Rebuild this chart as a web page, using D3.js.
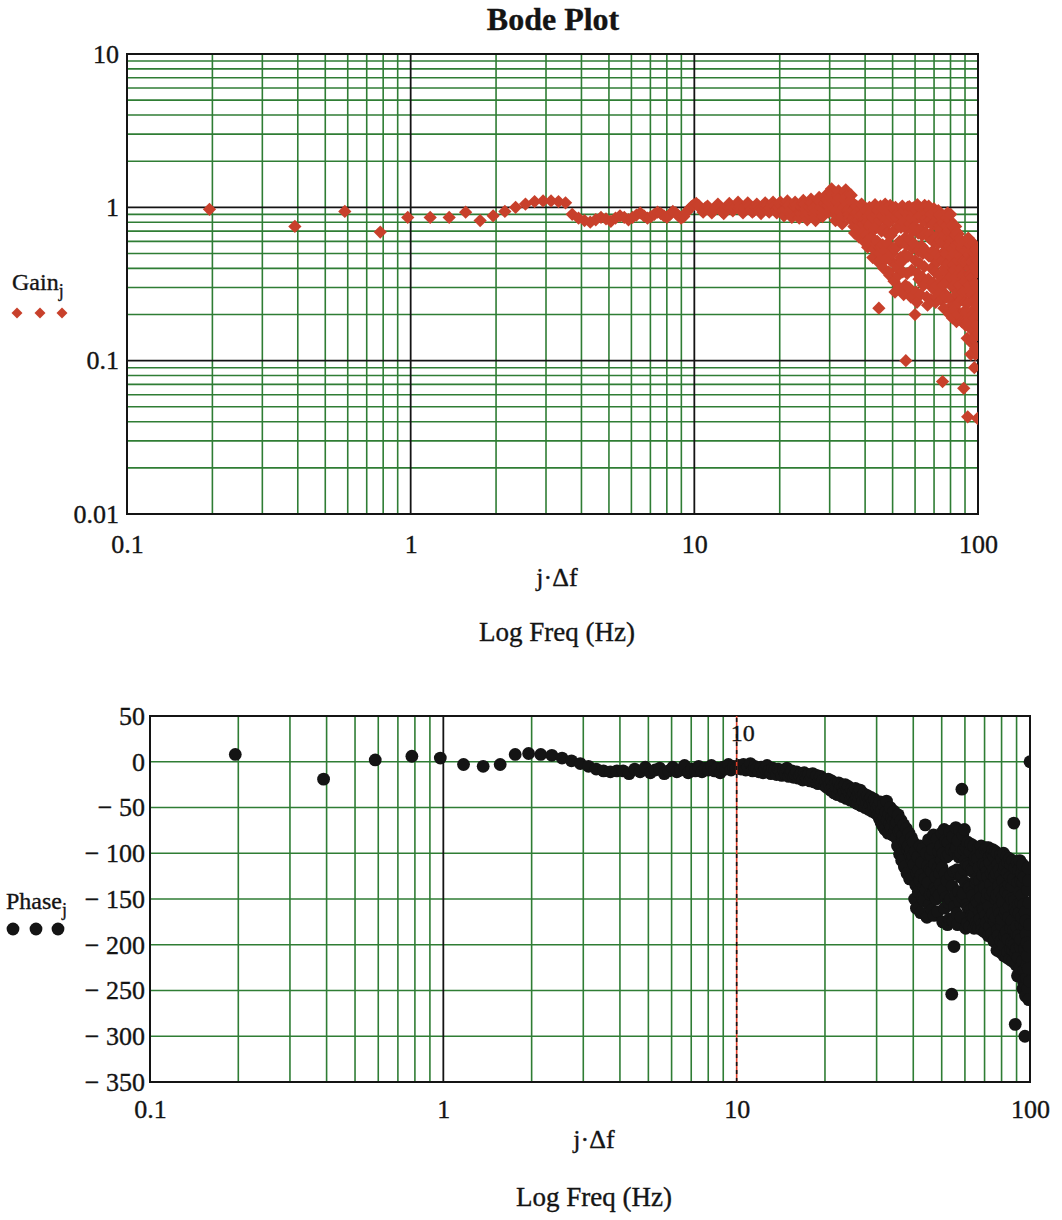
<!DOCTYPE html>
<html>
<head>
<meta charset="utf-8">
<script src="https://cdn.jsdelivr.net/npm/d3@7"></script>
<style>
  body { margin: 0; background: #fff; }
  text { font-family: "Liberation Serif", "Times New Roman", serif; fill: #141414; stroke: #141414; stroke-width: 0.35px; }
</style>
</head>
<body>
<svg id="chart" width="1062" height="1220"></svg>
<script>
// frequency step, x value of point j is j * df
const df = 100 / 512;

// Gain_j, j = 1..512
const gain = [
  .97,.75,.94,.69,.86,.86,.86,.93,.82,.88,
  .94,1.0,1.05,1.09,1.10,1.10,1.09,1.07,.90,.85,
  .82,.80,.83,.86,.84,.81,.85,.88,.86,.83,
  .86,.89,.92,.88,.85,.87,.90,.93,.91,.88,
  .86,.90,.94,.92,.88,.85,.87,.93,.97,1.01,1.04,
  1.06,1.03,.98,.93,.99,1.02,.97,.92,.96,1.00,
  1.05,.99,.94,.91,.97,1.01,1.06,1.00,.95,.98,
  1.02,1.08,1.01,.97,.92,.98,1.03,1.07,1.02,.96,
  .93,.95,1.00,1.05,1.01,.97,.91,.96,1.02,1.07,
  1.03,.96,.93,.99,1.04,1.08,1.02,.95,.92,1.00,1.06,
  1.08,1.02,.95,.88,.97,1.05,1.10,1.03,.94,.90,
  .86,.95,1.02,1.08,1.04,.98,.91,.85,.91,1.00,
  1.06,1.11,1.05,.97,.88,.83,.92,1.01,1.09,1.13,
  1.07,.99,.91,.86,.82,.95,1.04,1.12,1.16,1.08,
  1.00,.92,.87,.97,1.06,1.15,1.20,1.12,1.03,.93,1.08,1.18,
  1.25,1.32,1.22,1.10,.98,.90,.82,.95,1.08,1.20,1.28,1.15,1.02,.93,.86,.78,.88,1.00,1.12,1.24,1.30,1.18,1.05,.96,.90,
  .85,.97,1.10,1.20,1.08,.95,.84,.75,.68,.80,.92,1.02,.93,.82,.72,.64,.76,.88,.98,1.05,.90,.78,.67,.60,.70,.84,
  .95,.66,.80,.55,.88,.62,1.00,.75,.78,.92,
  .64,.86,.47,.98,.53,.72,1.04,.58,.74,.90,
  .60,.95,.44,.22,.82,.50,1.02,.56,.70,.88,
  .57,.97,.40,.73,.52,1.05,.46,.84,.68,.91,
  .58,.94,.38,.80,.36,1.03,.45,.66,.87,.50,.69,
  .54,.99,.33,.71,.28,1.00,.42,.86,.55,.40,
  .92,.36,.76,.30,.60,.90,.47,.74,.44,.59,
  1.02,.38,.80,.27,.95,.49,.63,.31,.10,.57,
  .72,.37,1.00,.48,.88,.30,1.01,.62,.94,.78,
  .26,.85,.39,.98,.54,.70,.99,.58,.91,.75,.20,
  .45,.97,.28,.84,.24,1.04,.37,.68,.52,.34,
  1.00,.43,.88,.27,.72,.33,.56,.66,.35,.50,
  .82,.31,.96,.41,1.03,.53,.99,.68,.92,.84,
  .26,.79,.23,.93,.34,1.02,.48,.63,.97,.83,
  .67,.25,.90,.40,.61,.30,.77,.52,.32,.46,
  .98,.29,.94,.38,.80,.24,.64,.26,.50,.31,
  .44,.86,.58,.95,.36,.73,.89,.47,.76,.61,
  .28,.72,.25,.59,.33,.45,.073,
  .88,.31,.79,.22,.66,.40,.52,.26,.38,.27,
  .50,.86,.26,.76,.33,.92,.43,.63,.70,.56,
  .22,.72,.20,.82,.35,.90,.25,.60,.47,.76,
  .63,.19,.54,.30,.42,.23,.50,.31,.39,.22,
  .66,.21,.75,.35,.57,.18,.69,.27,.45,.20,
  .28,.67,.24,.59,.31,.62,.37,.51,.48,.40,
  .19,.61,.25,.54,.18,.46,.34,.56,.44,.36,
  .28,.066,.45,.21,.33,.18,.24,
  .52,.17,.60,.28,.55,.21,.45,.14,.36,.043,
  .18,.63,.24,.55,.31,.49,.40,.57,.36,.45,
  .28,.11,.44,.16,.35,.13,.27,.21,.14,.20,
  .51,.14,.58,.19,.41,.09,.50,.25,.32,.11,
  .12,.53,.17,.46,.23,.38,.30,.45,.042,.26,.15
];

// Phase_j (degrees), j = 1..512
const phase = [
  8,-19,2,6,4,-3,-5,-3,8,9,
  8,7,4,1,-2,-5,-8,-10,-11,-10,
  -10,-13,-8,-11,-6,-12,-9,-7,-13,-10,
  -6,-11,-9,-4,-12,-8,-10,-5,-11,-7,
  -9,-4,-10,-7,-12,-6,-8,-3,-9,-5,-7,
  -4,-8,-3,-9,-6,-2,-10,-5,-7,-11,
  -6,-12,-8,-4,-10,-13,-7,-9,-14,-8,
  -11,-15,-9,-13,-7,-16,-12,-10,-17,-14,
  -11,-18,-15,-13,-20,-12,-16,-19,-14,-21,
  -17,-13,-22,-18,-15,-24,-19,-16,-23,-20,-26,
  -22,-28,-19,-25,-31,-21,-27,-34,-24,-29,
  -36,-23,-30,-26,-38,-28,-33,-25,-40,-31,
  -27,-35,-42,-30,-37,-33,-44,-29,-39,-46,
  -34,-41,-31,-48,-38,-43,-35,-50,-40,-45,
  -37,-52,-42,-47,-39,-54,-44,-49,-41,-56,-46,-51,
  -58,-48,-62,-44,-66,-53,-70,-47,-60,-74,-55,-43,-64,-78,-57,-68,-50,-72,-61,-80,-65,-54,-76,-69,-83,
  -66,-92,-58,-76,-101,-74,-64,-108,-84,-80,-69,-115,-90,-86,-73,-122,-96,-92,-78,-128,-102,-97,-83,-108,-103,-88,
  -112,-150,-98,-135,-160,-122,-104,-142,-118,-130,
  -92,-165,-124,-110,-148,-95,-136,-152,-128,-69,
  -140,-100,-170,-114,-132,-85,-156,-118,-145,-102,
  -120,-162,-96,-144,-80,-168,-112,-138,-126,-150,
  -142,-84,-164,-116,-98,-146,-122,-134,-92,-108,-78,
  -116,-175,-100,-140,-74,-160,-122,-86,-148,-104,
  -130,-178,-88,-154,-102,-172,-76,-150,-124,-96,
  -254,-136,-82,-174,-120,-202,-158,-98,-146,-72,
  -94,-166,-118,-178,-86,-142,-104,-152,-75,-126,
  -100,-170,-124,-30,-148,-80,-144,-96,-118,-74,-108,
  -132,-182,-94,-156,-112,-176,-88,-160,-136,-114,
  -138,-180,-98,-162,-90,-168,-118,-142,-120,-146,
  -170,-92,-182,-108,-158,-104,-132,-176,-128,-152,
  -180,-106,-154,-94,-182,-116,-164,-130,-172,-140,
  -148,-92,-178,-100,-184,-124,-160,-112,-162,-136,
  -138,-186,-96,-168,-114,-176,-94,-150,-120,-144,
  -126,-190,-94,-158,-104,-180,-110,-170,-134,-146,
  -122,-188,-100,-166,-96,-142,-118,
  -196,-104,-174,-126,-194,-98,-150,-170,-122,-146,
  -206,-100,-184,-112,-190,-136,-160,-118,-166,-142,
  -208,-102,-196,-124,-178,-106,-172,-148,-130,-154,
  -200,-100,-212,-118,-190,-114,-166,-138,-142,-162,
  -186,-104,-214,-122,-208,-110,-194,-146,-170,-134,
  -158,-106,-216,-126,-204,-112,-182,-150,-198,-174,
  -136,-218,-108,-206,-128,-184,-67,-200,-152,-160,
  -116,-287,-210,-164,-222,-188,-204,
  -180,-110,-234,-132,-214,-156,-190,-118,-166,-142,
  -226,-108,-202,-130,-194,-154,-178,-122,-170,-146,
  -218,-112,-248,-132,-240,-156,-228,-126,-204,-180,
  -300,-164,-256,-174,-244,-188,-236,-198,-222,-212,
  -140,-248,-116,-226,-130,-260,-154,-202,-178,-240,0
];

// tick labels
const freqTicks = [0.1, 1, 10, 100];
const gainTicks = [0.01, 0.1, 1, 10];
const phaseTicks = [50, 0, -50, -100, -150, -200, -250, -300, -350];
const markerFreq = 10;

const green = "#2f7d34";
const red = "#c8402b";
const ink = "#141414";

const svg = d3.select("#chart");

// scales
const gx = d3.scaleLog().domain([0.1, 100]).range([127, 978]);
const gy = d3.scaleLog().domain([0.01, 10]).range([514, 54]);
const px = d3.scaleLog().domain([0.1, 100]).range([150, 1030]);
const py = d3.scaleLinear().domain([-350, 50]).range([1082, 716]);

const isDecade = v => Math.abs(Math.log10(v) - Math.round(Math.log10(v))) < 1e-9;

const gainPts = gain.map((v, i) => ({f: (i + 1) * df, v: v}));
const phasePts = phase.map((v, i) => ({f: (i + 1) * df, v: v}));

const defs = svg.append("defs");
defs.append("clipPath").attr("id", "clipTop").append("rect")
  .attr("x", gx.range()[0]).attr("y", gy.range()[1])
  .attr("width", gx.range()[1] - gx.range()[0]).attr("height", gy.range()[0] - gy.range()[1]);
defs.append("clipPath").attr("id", "clipBot").append("rect")
  .attr("x", px.range()[0]).attr("y", py.range()[1])
  .attr("width", px.range()[1] - px.range()[0]).attr("height", py.range()[0] - py.range()[1]);

function vLines(g, x, y, vals, color, w) {
  g.append("g").selectAll("line").data(vals).join("line")
    .attr("x1", d => x(d)).attr("x2", d => x(d))
    .attr("y1", y.range()[0]).attr("y2", y.range()[1])
    .attr("stroke", color).attr("stroke-width", w);
}
function hLines(g, x, y, vals, color, w) {
  g.append("g").selectAll("line").data(vals).join("line")
    .attr("x1", x.range()[0]).attr("x2", x.range()[1])
    .attr("y1", d => y(d)).attr("y2", d => y(d))
    .attr("stroke", color).attr("stroke-width", w);
}

// ---------- top: gain ----------
const gTop = svg.append("g");
const gxT = gx.ticks(), gyT = gy.ticks();
vLines(gTop, gx, gy, gxT.filter(d => !isDecade(d)), green, 1.6);
hLines(gTop, gx, gy, gyT.filter(d => !isDecade(d)), green, 1.6);
vLines(gTop, gx, gy, gxT.filter(isDecade), ink, 1.8);
hLines(gTop, gx, gy, gyT.filter(isDecade), ink, 1.8);
gTop.append("rect")
  .attr("x", gx.range()[0]).attr("y", gy.range()[1])
  .attr("width", gx.range()[1] - gx.range()[0]).attr("height", gy.range()[0] - gy.range()[1])
  .attr("fill", "none").attr("stroke", ink).attr("stroke-width", 2);

const diamond = d3.symbol(d3.symbolSquare, 88)();
gTop.append("g").attr("clip-path", "url(#clipTop)")
  .selectAll("path").data(gainPts).join("path")
  .attr("d", diamond)
  .attr("transform", d => `translate(${gx(d.f)},${gy(d.v)}) rotate(45)`)
  .attr("fill", red);

const gAxisY = gTop.append("g").attr("transform", `translate(${gx.range()[0]},0)`)
  .call(d3.axisLeft(gy).tickValues(gainTicks).tickFormat(d3.format("~g")).tickSize(0).tickPadding(8));
const gAxisX = gTop.append("g").attr("transform", `translate(0,${gy.range()[0]})`)
  .call(d3.axisBottom(gx).tickValues(freqTicks).tickFormat(d3.format("~g")).tickSize(0).tickPadding(21));

// ---------- bottom: phase ----------
const gBot = svg.append("g");
const pxT = px.ticks();
vLines(gBot, px, py, pxT.filter(d => !isDecade(d)), green, 1.6);
hLines(gBot, px, py, phaseTicks, green, 1.6);
vLines(gBot, px, py, pxT.filter(d => isDecade(d) && d !== markerFreq), ink, 1.8);
gBot.append("rect")
  .attr("x", px.range()[0]).attr("y", py.range()[1])
  .attr("width", px.range()[1] - px.range()[0]).attr("height", py.range()[0] - py.range()[1])
  .attr("fill", "none").attr("stroke", ink).attr("stroke-width", 2);

gBot.append("g").attr("clip-path", "url(#clipBot)")
  .selectAll("circle").data(phasePts).join("circle")
  .attr("cx", d => px(d.f)).attr("cy", d => py(d.v))
  .attr("r", 6.4)
  .attr("fill", ink);

// marker line at 10 Hz
gBot.append("line")
  .attr("x1", px(markerFreq)).attr("x2", px(markerFreq))
  .attr("y1", py.range()[0]).attr("y2", py.range()[1])
  .attr("stroke", "#e0402a").attr("stroke-width", 1.6);
gBot.append("line")
  .attr("x1", px(markerFreq)).attr("x2", px(markerFreq))
  .attr("y1", py.range()[0]).attr("y2", py.range()[1])
  .attr("stroke", ink).attr("stroke-width", 1.6).attr("stroke-dasharray", "4,4");
gBot.append("text")
  .attr("x", px(markerFreq) - 6).attr("y", py.range()[1] + 25)
  .attr("font-size", 24).text(d3.format("~g")(markerFreq));

const pAxisY = gBot.append("g").attr("transform", `translate(${px.range()[0]},0)`)
  .call(d3.axisLeft(py).tickValues(phaseTicks)
    .tickFormat(d => d < 0 ? "\u2212 " + (-d) : String(d)).tickSize(0).tickPadding(5));
const pAxisX = gBot.append("g").attr("transform", `translate(0,${py.range()[0]})`)
  .call(d3.axisBottom(px).tickValues(freqTicks).tickFormat(d3.format("~g")).tickSize(0).tickPadding(18));

[gAxisY, gAxisX, pAxisY, pAxisX].forEach(a => {
  a.select(".domain").remove();
  a.selectAll("text").attr("font-size", 26).attr("fill", ink)
    .style("font-family", '"Liberation Serif", "Times New Roman", serif');
});

// ---------- titles and labels ----------
svg.append("text").attr("x", 553).attr("y", 30).attr("text-anchor", "middle")
  .attr("font-size", 32).attr("font-weight", "bold").text("Bode Plot");

function xLabels(cx, y1, y2) {
  svg.append("text").attr("x", cx).attr("y", y1).attr("text-anchor", "middle")
    .attr("font-size", 26).text("j\u00B7\u0394f");
  svg.append("text").attr("x", cx).attr("y", y2).attr("text-anchor", "middle")
    .attr("font-size", 27).text("Log Freq (Hz)");
}
xLabels(557, 586, 641);
xLabels(594, 1148, 1206);

function yLegend(x, y, name) {
  const t = svg.append("text").attr("x", x).attr("y", y).attr("font-size", 24);
  t.append("tspan").text(name);
  t.append("tspan").attr("dy", 7).attr("font-size", 18).text("j");
}
yLegend(12, 290, "Gain");
yLegend(6, 909, "Phase");

const legendDiamond = d3.symbol(d3.symbolSquare, 60)();
svg.append("g").selectAll("path").data([17, 40, 62]).join("path")
  .attr("d", legendDiamond)
  .attr("transform", d => `translate(${d},313) rotate(45)`)
  .attr("fill", red);
svg.append("g").selectAll("circle").data([13, 36, 58]).join("circle")
  .attr("cx", d => d).attr("cy", 929).attr("r", 6.4).attr("fill", ink);
</script>
</body>
</html>
